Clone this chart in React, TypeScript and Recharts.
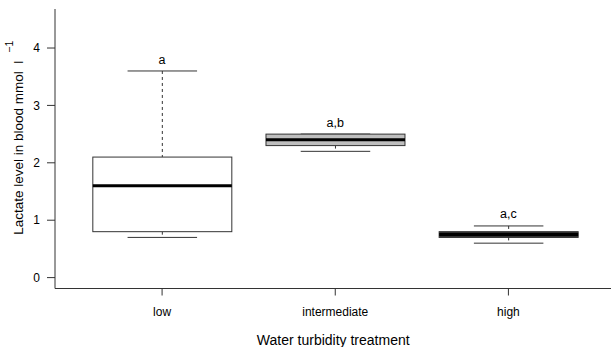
import { ComposedChart, Bar, Scatter, XAxis, YAxis } from 'recharts';

const groups = ['low', 'intermediate', 'high'];
const whiskerLow = [0.7, 2.2, 0.6];
const quartileLow = [0.8, 2.3, 0.7];
const medians = [1.6, 2.4, 0.75];
const quartileHigh = [2.1, 2.5, 0.8];
const whiskerHigh = [3.6, 2.5, 0.9];
const boxFills = ['#ffffff', '#bebebe', '#333333'];
const letters = ['a', 'a,b', 'a,c'];
const letterY = [3.8, 2.7, 1.1];
const yTicks = [0, 1, 2, 3, 4];

const data = groups.map((group, i) => ({
  group,
  min: whiskerLow[i],
  q1: quartileLow[i],
  median: medians[i],
  q3: quartileHigh[i],
  max: whiskerHigh[i],
  fill: boxFills[i],
  letter: letters[i],
  letterY: letterY[i],
}));

const FONT = '"Liberation Sans", Arial, Helvetica, sans-serif';
const INK = '#333';

// box + whiskers drawn inside the bar that spans min..max
const BoxShape = (props: any) => {
  const { x, y, width, height, payload } = props;
  const { min, q1, median, q3, max, fill } = payload;
  const k = height / (max - min);
  const py = (v: number) => y + (max - v) * k;
  const cx = x + width / 2;
  const cap = width / 4;
  return (
    <g>
      <line x1={cx} x2={cx} y1={py(max)} y2={py(q3)} stroke={INK} strokeDasharray="3 3" />
      <line x1={cx} x2={cx} y1={py(q1)} y2={py(min)} stroke={INK} strokeDasharray="3 3" />
      <line x1={cx - cap} x2={cx + cap} y1={py(max)} y2={py(max)} stroke={INK} />
      <line x1={cx - cap} x2={cx + cap} y1={py(min)} y2={py(min)} stroke={INK} />
      <rect x={x} y={py(q3)} width={width} height={py(q1) - py(q3)} fill={fill} stroke={INK} />
      <line x1={x} x2={x + width} y1={py(median)} y2={py(median)} stroke="#000" strokeWidth={3} />
    </g>
  );
};

const LetterShape = (props: any) => (
  <text x={props.cx} y={props.cy} textAnchor="middle" dominantBaseline="central"
    fontSize={12.5} fontFamily={FONT} fill="#000">
    {props.payload.letter}
  </text>
);

const YLabel = ({ viewBox }: any) => {
  const cx = viewBox.x + 18;
  const cy = viewBox.y + viewBox.height / 2 - 11;
  return (
    <text x={cx} y={cy} transform={`rotate(-90, ${cx}, ${cy})`} textAnchor="middle"
      dominantBaseline="central" fontSize={13.5} fontFamily={FONT} fill="#000">
      Lactate level in blood mmol{'\u00a0\u00a0'}l
      <tspan dx={8} dy={-9} fontSize={10.5}>−1</tspan>
    </text>
  );
};

const XLabel = ({ viewBox }: any) => (
  <text x={viewBox.x + viewBox.width / 2 - 2} y={viewBox.y + 51.5} textAnchor="middle"
    dominantBaseline="central" fontSize={14} fontFamily={FONT} fill="#000">
    Water turbidity treatment
  </text>
);

export default function App() {
  return (
    <div style={{ position: 'fixed', top: 0, left: 0, width: 611, height: 347, overflow: 'hidden', background: '#fff' }}>
      <ComposedChart width={640} height={347} data={data} barCategoryGap="10%"
        margin={{ top: 9, right: 24.5, bottom: 0, left: 0 }}>
        <XAxis dataKey="group" height={58.5} padding={{ left: 20.5, right: 20.5 }}
          tickSize={7} tickMargin={12} axisLine={{ stroke: INK }} tickLine={{ stroke: INK }}
          tick={{ fill: '#000', fontSize: 12, fontFamily: FONT }} label={<XLabel />} />
        <XAxis xAxisId="top" orientation="top" dataKey="group" height={0} tick={false}
          tickLine={false} axisLine={{ stroke: INK }} />
        <YAxis type="number" width={55} domain={[-0.19, 4.68]} ticks={yTicks} allowDataOverflow
          tickSize={8} tickMargin={7} axisLine={{ stroke: INK }} tickLine={{ stroke: INK }}
          tick={{ fill: '#000', fontSize: 12, fontFamily: FONT }} label={<YLabel />} />
        <Bar dataKey={(d: any) => [d.min, d.max]} shape={<BoxShape />} isAnimationActive={false} />
        <Scatter dataKey="letterY" shape={<LetterShape />} isAnimationActive={false} />
      </ComposedChart>
    </div>
  );
}
